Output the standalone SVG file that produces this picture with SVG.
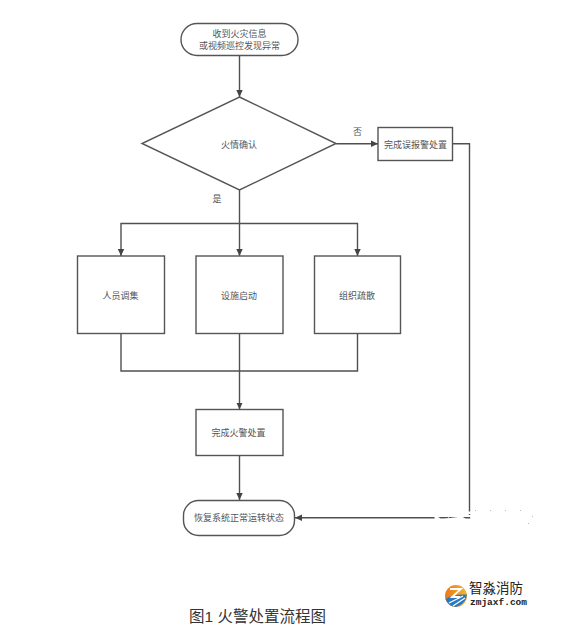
<svg xmlns="http://www.w3.org/2000/svg" width="570" height="637" viewBox="0 0 570 637">
<style>
.n{fill:#fff;stroke:#555;stroke-width:1.4}
.c{fill:none;stroke:#505050;stroke-width:1.4}
.t{font-family:"Liberation Sans","Noto Sans CJK SC",sans-serif;font-size:9px;fill:#555;text-anchor:middle}
</style>
<defs>
<marker id="a" markerUnits="userSpaceOnUse" markerWidth="7" markerHeight="9" refX="7" refY="4" orient="auto"><path d="M0 0.800L7 4L0 7.200Z" fill="#444"/></marker>
<linearGradient id="o" x1="0" y1="0" x2="1" y2="0"><stop offset="0" stop-color="#e8781c"/><stop offset="1" stop-color="#f7b52a"/></linearGradient>
</defs>
<rect width="570" height="637" fill="#fff"/>
<g id="connectors">
<path class="c" marker-end="url(#a)" d="M239.500 56V97"/>
<path class="c" marker-end="url(#a)" d="M336 143.700H378"/>
<path class="c" d="M239.500 190V223.500"/>
<path class="c" marker-end="url(#a)" d="M239.500 223.500V256"/>
<path class="c" marker-end="url(#a)" d="M239.500 223.500H121V256"/>
<path class="c" marker-end="url(#a)" d="M239.500 223.500H357.500V256"/>
<path class="c" d="M121 333.500V371H357.500V333.500"/>
<path class="c" d="M239.500 333.500V371"/>
<path class="c" marker-end="url(#a)" d="M239.500 371V409.500"/>
<path class="c" marker-end="url(#a)" d="M239.500 455.500V500"/>
<path class="c" marker-end="url(#a)" d="M452.500 143.700H469.500V517.700H295"/>
</g>
<g id="start"><rect class="n" x="181" y="23.500" width="117" height="32" rx="16"/><text class="t" x="239.500" y="37">收到火灾信息</text><text class="t" x="239.500" y="49">或视频巡控发现异常</text></g>
<g id="decision"><polygon class="n" points="239.500,97 336,143.500 239.500,190 142,143.500"/><text class="t" x="239" y="147.500">火情确认</text></g>
<g id="false-alarm"><rect class="n" x="378" y="127.500" width="74.500" height="33"/><text class="t" x="415.500" y="148">完成误报警处置</text></g>
<g id="people"><rect class="n" x="77.500" y="256" width="87" height="77.500"/><text class="t" x="120.500" y="298.500">人员调集</text></g>
<g id="facility"><rect class="n" x="196" y="256" width="87" height="77.500"/><text class="t" x="239" y="298.500">设施启动</text></g>
<g id="evacuate"><rect class="n" x="314.500" y="256" width="86" height="77.500"/><text class="t" x="357" y="298.500">组织疏散</text></g>
<g id="done"><rect class="n" x="196" y="409.500" width="87" height="46"/><text class="t" x="238.500" y="436">完成火警处置</text></g>
<g id="end"><rect class="n" x="183.500" y="500.500" width="111" height="35" rx="15"/><text class="t" x="239" y="521">恢复系统正常运转状态</text></g>
<g id="labels">
<text class="t" x="357.500" y="134.500">否</text>
<text class="t" x="217" y="201.500">是</text>
</g>
<g id="specks" fill="#fff">
<path d="M434 515L442 519L462 516.500L466 519L435 520Z"/>
<path d="M468 511.500H472V514H468ZM467.500 515H471.500V517H467.500Z"/>
</g>
<g id="specks-grey" fill="#bbb">
<path d="M475 510h1v1h-1ZM490 510h1v1h-1ZM505 510h1v1h-1ZM520 510h1v1h-1ZM532 516h1v1h-1ZM528 523h1v1h-1ZM440 518h1v1h-1ZM448 517h1v1h-1Z"/>
</g>
<text x="189" y="622" font-family="'Liberation Sans','Noto Sans CJK SC',sans-serif" font-size="15.500px" fill="#333">图1 火警处置流程图</text>
<g id="logo">
<circle cx="456" cy="596" r="11" fill="url(#o)"/>
<path d="M445.500 599Q452 594 467 594.500Q466 604 456 607Q448 606 445.500 599Z" fill="#2b78c2"/>
<path d="M449 603L463 596M453 606L465 598" stroke="#fff" stroke-width="1.200" fill="none"/>
<path d="M450 589H461L452 597H460" stroke="#fff" stroke-width="1.800" fill="none"/>
<text x="469" y="593" font-family="'Noto Sans CJK SC',sans-serif" font-size="13.500px" fill="#222">智淼消防</text>
<text x="470" y="605" font-family="'Liberation Mono',monospace" font-size="9.500px" font-weight="bold" fill="#222">zmjaxf.com</text>
</g>
</svg>
